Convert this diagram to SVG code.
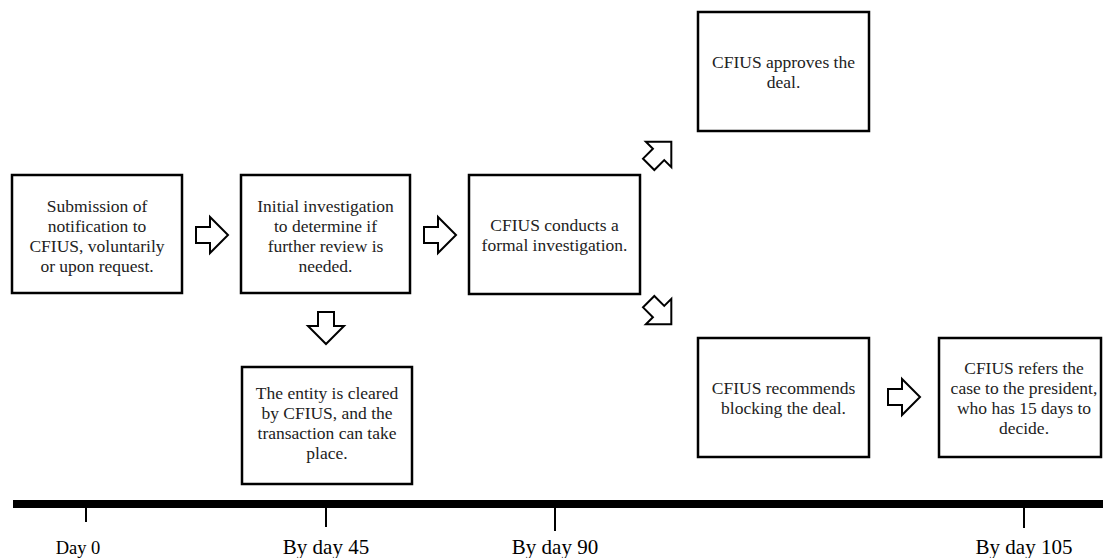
<svg xmlns="http://www.w3.org/2000/svg" width="1103" height="558" viewBox="0 0 1103 558">
<style>
.box{fill:#fff;stroke:#000;stroke-width:2.5}
.t{font-family:"Liberation Serif","Times New Roman",serif;font-size:17.5px;fill:#222;text-anchor:middle}
.lbl{font-family:"Liberation Serif","Times New Roman",serif;font-size:21px;fill:#000;text-anchor:middle}
.arr{fill:#fff;stroke:#000;stroke-width:2;stroke-linejoin:miter}
.tick{stroke:#000;stroke-width:2}
</style>
<defs>
<polygon id="ra" points="-16,-8 -2,-8 -2,-18 16,0 -2,18 -2,8 -16,8"/>
</defs>
<rect width="1103" height="558" fill="#fff"/>
<g id="n1"><rect class="box" x="12" y="175" width="170" height="118"/>
<text class="t"><tspan x="97" y="211.5">Submission of</tspan><tspan x="97" y="231.5">notification to</tspan><tspan x="97" y="251.5">CFIUS, voluntarily</tspan><tspan x="97" y="271.5">or upon request.</tspan></text></g>
<g id="n2"><rect class="box" x="241" y="175" width="169" height="118"/>
<text class="t"><tspan x="325.5" y="211.5">Initial investigation</tspan><tspan x="325.5" y="231.5">to determine if</tspan><tspan x="325.5" y="251.5">further review is</tspan><tspan x="325.5" y="271.5">needed.</tspan></text></g>
<g id="n3"><rect class="box" x="469" y="175" width="171" height="119"/>
<text class="t"><tspan x="554.5" y="230.5">CFIUS conducts a</tspan><tspan x="554.5" y="250.5">formal investigation.</tspan></text></g>
<g id="n4"><rect class="box" x="698" y="12" width="171" height="119"/>
<text class="t"><tspan x="783.5" y="67.5">CFIUS approves the</tspan><tspan x="783.5" y="87.5">deal.</tspan></text></g>
<g id="n5"><rect class="box" x="242" y="367" width="170" height="117"/>
<text class="t"><tspan x="327" y="399">The entity is cleared</tspan><tspan x="327" y="419">by CFIUS, and the</tspan><tspan x="327" y="439">transaction can take</tspan><tspan x="327" y="459">place.</tspan></text></g>
<g id="n6"><rect class="box" x="698" y="338" width="171" height="119"/>
<text class="t"><tspan x="783.5" y="393.5">CFIUS recommends</tspan><tspan x="783.5" y="413.5">blocking the deal.</tspan></text></g>
<g id="n7"><rect class="box" x="939" y="338" width="162" height="119"/>
<text class="t"><tspan x="1024" y="373.5">CFIUS refers the</tspan><tspan x="1024" y="393.5">case to the president,</tspan><tspan x="1024" y="413.5">who has 15 days to</tspan><tspan x="1024" y="433.5">decide.</tspan></text></g>
<g id="connectors">
<use href="#ra" class="arr" transform="translate(212,235)"/>
<use href="#ra" class="arr" transform="translate(440,235)"/>
<use href="#ra" class="arr" transform="translate(326,328) rotate(90)"/>
<use href="#ra" class="arr" transform="translate(660,153) rotate(-45)"/>
<use href="#ra" class="arr" transform="translate(660,313) rotate(45)"/>
<use href="#ra" class="arr" transform="translate(904,397)"/>
</g>
<g id="timeline">
<rect x="13" y="500" width="1090" height="8" fill="#000"/>
<line class="tick" x1="86" y1="507" x2="86" y2="522"/>
<line class="tick" x1="326" y1="507" x2="326" y2="527"/>
<line class="tick" x1="555" y1="507" x2="555" y2="531"/>
<line class="tick" x1="1024" y1="507" x2="1024" y2="528"/>
<text class="lbl" x="78" y="554" style="font-size:18.5px">Day 0</text>
<text class="lbl" x="326" y="554">By day 45</text>
<text class="lbl" x="555" y="554">By day 90</text>
<text class="lbl" x="1024" y="554">By day 105</text>
</g>
</svg>
